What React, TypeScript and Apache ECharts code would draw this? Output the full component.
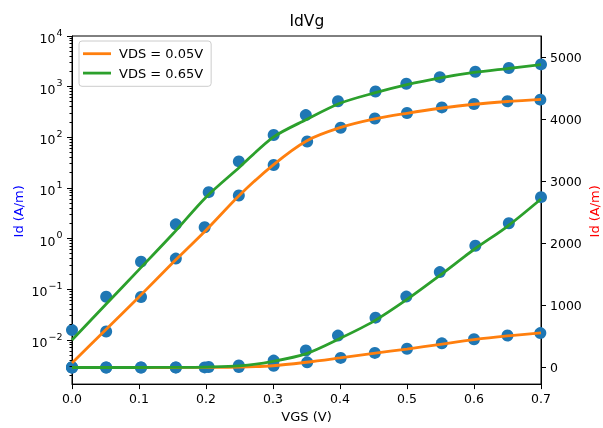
import React, { useEffect, useRef } from 'react';
import * as echarts from 'echarts';

const FONT = 'DejaVu Sans';
const BLUE = '#1f77b4';
const ORANGE = '#ff7f0e';
const GREEN = '#2ca02c';

// fitted curves (Id in A/m) at these VGS values
const vgsFit = [0, 0.05, 0.1, 0.15, 0.2, 0.25, 0.3, 0.35, 0.4, 0.45, 0.5, 0.55, 0.6, 0.65, 0.7];
const fitVds005 = [0.0035, 0.0158, 0.071, 0.33, 1.47, 7.2, 28.4, 85, 155, 228, 298, 375, 450, 510, 560];
const fitVds065 = [0.01, 0.0495, 0.245, 1.22, 6.6, 25.7, 100, 225, 470, 745, 1100, 1495, 1905, 2280, 2720];

// measured points
const vgsPts005 = [0, 0.051, 0.103, 0.155, 0.198, 0.249, 0.301, 0.351, 0.401, 0.452, 0.5, 0.552, 0.6, 0.65, 0.699];
const idPts005 = [0.0029, 0.0147, 0.0705, 0.404, 1.68, 7.1, 28.4, 83, 155, 236, 303, 390, 455, 516, 555];
const vgsPts065 = [0, 0.051, 0.103, 0.155, 0.204, 0.249, 0.301, 0.349, 0.397, 0.453, 0.499, 0.549, 0.602, 0.652, 0.7];
const idPts065 = [0.0157, 0.0714, 0.352, 1.92, 8.28, 33.5, 111, 275, 515, 805, 1145, 1540, 1965, 2330, 2750];

// axes
const logMajorExponents = [-2, -1, 0, 1, 2, 3, 4];
const logMinorDecades = [-3, -2, -1, 0, 1, 2, 3];
const logMinorMultipliers = [2, 3, 4, 5, 6, 7, 8, 9];
const linearTicks = [0, 1000, 2000, 3000, 4000, 5000];
const LOG_MIN = -2.87;
const LOG_MAX = 4;
const LIN_MIN = -268;
const LIN_MAX = 5352;
const X_MIN = 0;
const X_MAX = 0.7;

const isInt = (v: number) => Math.abs(v - Math.round(v)) < 1e-9;

export default function App() {
  const ref = useRef<HTMLDivElement>(null);
  useEffect(() => {
    if (!ref.current) return;
    const chart = echarts.init(ref.current, null, { renderer: 'svg' });

    const logPairs = (xs: number[], ys: number[]) => xs.map((x, i) => [x, Math.log10(ys[i])]);
    const linPairs = (xs: number[], ys: number[]) => xs.map((x, i) => [x, ys[i]]);

    const scatter = (name: string, data: number[][], yi: number) => ({
      name,
      type: 'scatter',
      yAxisIndex: yi,
      data,
      symbolSize: 12,
      itemStyle: { color: BLUE, opacity: 1 },
      silent: true,
    });
    const line = (name: string, data: number[][], yi: number, color: string) => ({
      name,
      type: 'line',
      yAxisIndex: yi,
      data,
      smooth: 0.3,
      symbol: 'none',
      showSymbol: false,
      clip: true,
      color,
      lineStyle: { color, width: 2.8 },
      itemStyle: { color },
      silent: true,
    });

    const leftTicks: number[][] = [];
    logMajorExponents.forEach((e) => leftTicks.push([X_MIN, e, 5]));
    logMinorDecades.forEach((d) =>
      logMinorMultipliers.forEach((m) => {
        const v = d + Math.log10(m);
        if (v > LOG_MIN && v < LOG_MAX) leftTicks.push([X_MIN, v, 2.5]);
      })
    );
    const rightTicks = linearTicks.map((v) => [X_MAX, v, 5]);

    const tickSeries = (data: number[][], yi: number, dir: number) => ({
      type: 'custom',
      yAxisIndex: yi,
      coordinateSystem: 'cartesian2d',
      encode: { x: 0, y: 1 },
      data,
      silent: true,
      clip: false,
      z: 10,
      renderItem: (_p: any, api: any) => {
        const pt = api.coord([api.value(0), api.value(1)]);
        const len = api.value(2);
        const y = Math.round(pt[1] - 0.5) + 0.5;
        return {
          type: 'line',
          shape: { x1: pt[0], y1: y, x2: pt[0] + dir * len, y2: y },
          style: { stroke: '#000', lineWidth: 1 },
        };
      },
    });

    const option: any = {
      animation: false,
      textStyle: { fontFamily: FONT },
      grid: {
        left: 72,
        right: 62,
        top: 36,
        bottom: 41,
        show: true,
        borderColor: '#000',
        borderWidth: 1,
        backgroundColor: 'transparent',
      },
      graphic: [
        {
          type: 'text',
          x: 306.8,
          y: 21,
          style: { text: 'IdVg', fontSize: 15.5, fontFamily: FONT, fill: '#000', align: 'center', verticalAlign: 'middle' },
        },
        {
          type: 'text',
          x: 18,
          y: 211.3,
          rotation: Math.PI / 2,
          style: { text: 'Id (A/m)', fontSize: 13, fontFamily: FONT, fill: '#0000ff', align: 'center', verticalAlign: 'middle' },
        },
        {
          type: 'text',
          x: 594.5,
          y: 211.3,
          rotation: Math.PI / 2,
          style: { text: 'Id (A/m)', fontSize: 13, fontFamily: FONT, fill: '#ff0000', align: 'center', verticalAlign: 'middle' },
        },
      ],
      legend: {
        data: [
          { name: 'VDS = 0.05V', icon: 'rect', itemStyle: { color: ORANGE } },
          { name: 'VDS = 0.65V', icon: 'rect', itemStyle: { color: GREEN } },
        ],
        orient: 'vertical',
        left: 79,
        top: 41,
        itemWidth: 28,
        itemHeight: 2.8,
        itemGap: 4,
        padding: [5, 8, 5.5, 4],
        backgroundColor: 'rgba(255,255,255,0.8)',
        borderColor: '#cccccc',
        borderWidth: 1,
        borderRadius: 3,
        selectedMode: false,
        textStyle: { fontSize: 13, color: '#000', fontFamily: FONT, padding: [0, 0, 0, 3], lineHeight: 15.4 },
      },
      xAxis: {
        type: 'value',
        min: X_MIN,
        max: X_MAX,
        interval: 0.1,
        name: 'VGS (V)',
        nameLocation: 'middle',
        nameGap: 25,
        nameTextStyle: { fontSize: 13, color: '#000', fontFamily: FONT },
        axisLine: { show: true, onZero: false, lineStyle: { color: '#000', width: 1 } },
        axisTick: { show: true, inside: false, length: 5, lineStyle: { color: '#000', width: 1 } },
        axisLabel: { fontSize: 12.5, color: '#000', margin: 8, fontFamily: FONT, formatter: (v: number) => v.toFixed(1) },
        splitLine: { show: false },
      },
      yAxis: [
        {
          type: 'value',
          position: 'left',
          min: LOG_MIN,
          max: LOG_MAX,
          splitNumber: 7,
          axisLine: { show: true, onZero: false, lineStyle: { color: '#000', width: 1 } },
          axisTick: { show: false },
          splitLine: { show: false },
          axisLabel: {
            margin: 9.5,
            color: '#000',
            fontFamily: FONT,
            formatter: (v: number) => {
              if (!isInt(v)) return '';
              const e = Math.round(v);
              const s = e < 0 ? '\u2212' + Math.abs(e) : String(e);
              return `{b|10}{s|${s}}`;
            },
            rich: {
              b: { fontSize: 12.5, lineHeight: 18, verticalAlign: 'bottom', color: '#000', fontFamily: FONT },
              s: { fontSize: 9.5, lineHeight: 10, verticalAlign: 'top', color: '#000', fontFamily: FONT, padding: [0, 0, 0, 1] },
            },
          },
        },
        {
          type: 'value',
          position: 'right',
          min: LIN_MIN,
          max: LIN_MAX,
          splitNumber: 5,
          axisLine: { show: true, onZero: false, lineStyle: { color: '#000', width: 1 } },
          axisTick: { show: false },
          splitLine: { show: false },
          axisLabel: {
            margin: 9,
            fontSize: 12.5,
            color: '#000',
            fontFamily: FONT,
            formatter: (v: number) => (Math.abs(v % 1000) < 1e-6 ? String(Math.round(v)) : ''),
          },
        },
      ],
      series: [
        scatter('pts 0.05V log', logPairs(vgsPts005, idPts005), 0),
        scatter('pts 0.65V log', logPairs(vgsPts065, idPts065), 0),
        scatter('pts 0.05V lin', linPairs(vgsPts005, idPts005), 1),
        scatter('pts 0.65V lin', linPairs(vgsPts065, idPts065), 1),
        line('VDS = 0.05V', logPairs(vgsFit, fitVds005), 0, ORANGE),
        line('VDS = 0.05V', linPairs(vgsFit, fitVds005), 1, ORANGE),
        line('VDS = 0.65V', logPairs(vgsFit, fitVds065), 0, GREEN),
        line('VDS = 0.65V', linPairs(vgsFit, fitVds065), 1, GREEN),
        tickSeries(leftTicks, 0, -1),
        tickSeries(rightTicks, 1, 1),
      ],
    };
    chart.setOption(option);
    return () => chart.dispose();
  }, []);
  return <div ref={ref} style={{ position: 'fixed', left: 0, top: 0, width: 603, height: 428 }} />;
}
